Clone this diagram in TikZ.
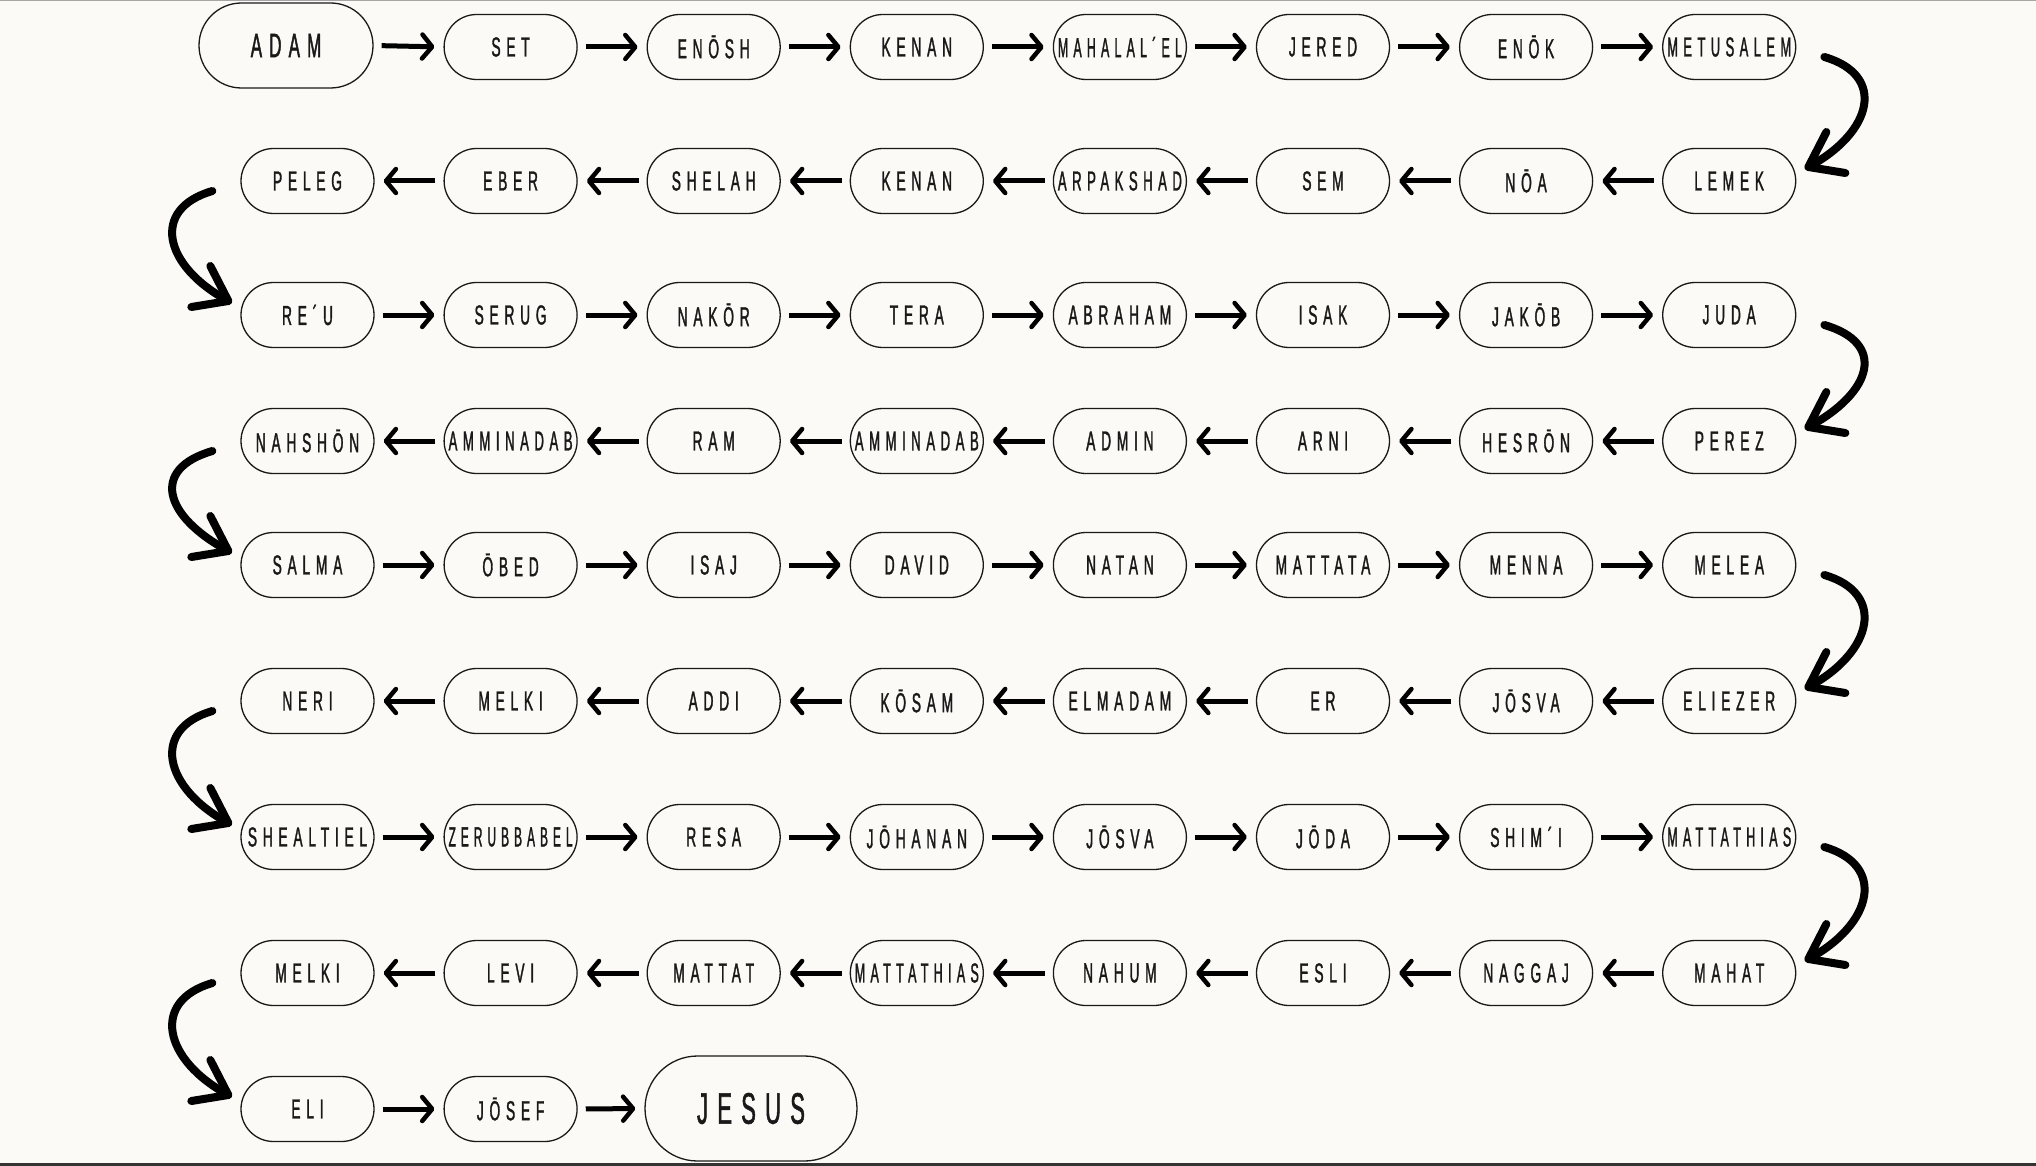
\documentclass[tikz,border=0pt]{standalone}
\usepackage{fontspec}
\usetikzlibrary{calc,arrows.meta}
\newfontfamily\namefont[FakeStretch=0.5,LetterSpace=21,FakeBold=1.2]{Liberation Sans}
\definecolor{bg}{HTML}{FCFAF6}
\newcommand{\fitname}[2]{%
  \sbox0{\fontsize{#1}{#1}\namefont #2}%
  \ifdim\wd0>124pt \resizebox{124pt}{\ht0}{\usebox0}\else\usebox0\fi}
\newcommand{\rcurve}[2]{%
  \draw[curv] ($(#1.east)+(28,10)$) .. controls +(62,18) and +(65,-35) .. ($(#2.east)+(12,-14)$);
  \draw[curv] ($(#2.east)+(30,-49)$) -- ($(#2.east)+(12,-14)$) -- ($(#2.east)+(49,-8)$);}
\newcommand{\lcurve}[2]{%
  \draw[curv] ($(#1.west)+(-28,10)$) .. controls +(-62,18) and +(-65,-35) .. ($(#2.west)+(-12,-14)$);
  \draw[curv] ($(#2.west)+(-30,-49)$) -- ($(#2.west)+(-12,-14)$) -- ($(#2.west)+(-49,-8)$);}
\begin{document}
\begin{tikzpicture}[x=1pt,y=-1pt,
  nm/.style={draw=black!90, line width=1.3pt, rounded corners=32.5pt, minimum width=133pt, minimum height=65pt, inner sep=0pt, text=black!90},
  arr/.style={line width=5pt, -{Straight Barb[length=10pt,width=24pt,line width=4.5pt,round]}, shorten <=8pt, shorten >=9pt},
  curv/.style={line width=8pt, line cap=round, line join=round}]
\fill[bg] (0,0) rectangle (2036,1166);
\useasboundingbox (0,0) rectangle (2036,1166);
\fill[black!35] (0,0) rectangle (2036,1.5);
\fill[black!80] (0,1163) rectangle (2036,1166);
% row 1
\node[nm, minimum width=174pt, minimum height=85pt, rounded corners=42.5pt] (n1-0) at (286,45.5) {\fitname{34}{ADAM}};
\foreach \t [count=\i from 1] in {SET,ENŌSH,KENAN,MAHALAL´EL,JERED,ENŌK,METUSALEM}
  \node[nm] (n1-\i) at ({307.5+203.1*\i},47) {\fitname{27.5}{\t}};
% row 2
\foreach \t [count=\i from 0] in {PELEG,EBER,SHELAH,KENAN,ARPAKSHAD,SEM,NŌA,LEMEK}
  \node[nm] (n2-\i) at ({307.5+203.1*\i},181) {\fitname{27.5}{\t}};
% row 3
\foreach \t [count=\i from 0] in {RE´U,SERUG,NAKŌR,TERA,ABRAHAM,ISAK,JAKŌB,JUDA}
  \node[nm] (n3-\i) at ({307.5+203.1*\i},315) {\fitname{27.5}{\t}};
% row 4
\foreach \t [count=\i from 0] in {NAHSHŌN,AMMINADAB,RAM,AMMINADAB,ADMIN,ARNI,HESRŌN,PEREZ}
  \node[nm] (n4-\i) at ({307.5+203.1*\i},441) {\fitname{27.5}{\t}};
% row 5
\foreach \t [count=\i from 0] in {SALMA,ŌBED,ISAJ,DAVID,NATAN,MATTATA,MENNA,MELEA}
  \node[nm] (n5-\i) at ({307.5+203.1*\i},565) {\fitname{27.5}{\t}};
% row 6
\foreach \t [count=\i from 0] in {NERI,MELKI,ADDI,KŌSAM,ELMADAM,ER,JŌSVA,ELIEZER}
  \node[nm] (n6-\i) at ({307.5+203.1*\i},701) {\fitname{27.5}{\t}};
% row 7
\foreach \t [count=\i from 0] in {SHEALTIEL,ZERUBBABEL,RESA,JŌHANAN,JŌSVA,JŌDA,SHIM´I,MATTATHIAS}
  \node[nm] (n7-\i) at ({307.5+203.1*\i},837) {\fitname{27.5}{\t}};
% row 8
\foreach \t [count=\i from 0] in {MELKI,LEVI,MATTAT,MATTATHIAS,NAHUM,ESLI,NAGGAJ,MAHAT}
  \node[nm] (n8-\i) at ({307.5+203.1*\i},973) {\fitname{27.5}{\t}};
% row 9
\node[nm] (n9-0) at (307.5,1109) {\fitname{27.5}{ELI}};
\node[nm] (n9-1) at (510.6,1109) {\fitname{27.5}{JŌSEF}};
\node[nm, minimum width=212pt, minimum height=105pt, rounded corners=52.5pt] (n9-2) at (751,1108.5) {\fitname{44}{JESUS}};
% straight arrows
\foreach \rw in {1,3,5,7}{
  \foreach \ia in {0,...,6}{
    \pgfmathtruncatemacro{\ib}{\ia+1}
    \draw[arr] (n\rw-\ia.east) -- (n\rw-\ib.west);
  }
}
\foreach \rw in {2,4,6,8}{
  \foreach \ia in {0,...,6}{
    \pgfmathtruncatemacro{\ib}{\ia+1}
    \draw[arr] (n\rw-\ib.west) -- (n\rw-\ia.east);
  }
}
\draw[arr] (n9-0.east) -- (n9-1.west);
\draw[arr] (n9-1.east) -- (n9-2.west);
% curved arrows
\rcurve{n1-7}{n2-7}
\rcurve{n3-7}{n4-7}
\rcurve{n5-7}{n6-7}
\rcurve{n7-7}{n8-7}
\lcurve{n2-0}{n3-0}
\lcurve{n4-0}{n5-0}
\lcurve{n6-0}{n7-0}
\lcurve{n8-0}{n9-0}
\end{tikzpicture}
\end{document}
